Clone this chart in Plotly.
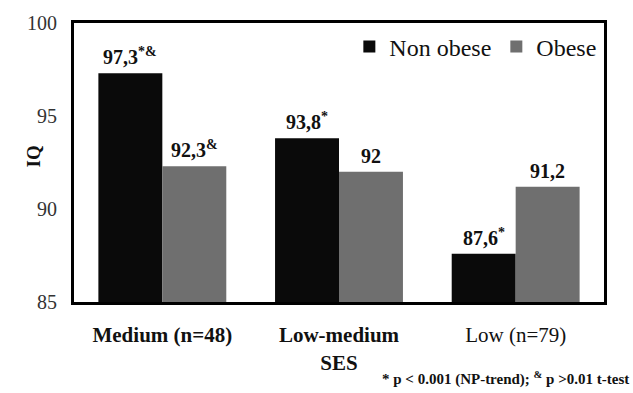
import plotly.graph_objects as go

categories = ["Medium (n=48)", "Low-medium SES", "Low (n=79)"]
tick_text = ["<b>Medium (n=48)</b>", "<b>Low-medium<br>SES</b>", "Low (n=79)"]
non_obese = [97.3, 93.8, 87.6]
obese = [92.3, 92.0, 91.2]
non_obese_labels = ["97,3<sup>*&amp;</sup>", "93,8<sup>*</sup>", "87,6<sup>*</sup>"]
obese_labels = ["92,3<sup>&amp;</sup>", "92", "91,2"]
y_ticks = [85, 90, 95, 100]

SERIF = "Liberation Serif"
BLACK = "#0a0a0a"
GRAY = "#6f6f6f"

fig = go.Figure()
fig.add_trace(go.Bar(name="Non obese", x=categories, y=non_obese,
                     marker=dict(color=BLACK, line=dict(width=0))))
fig.add_trace(go.Bar(name="Obese", x=categories, y=obese,
                     marker=dict(color=GRAY, line=dict(width=0))))

half = 32
for cat, v, t in zip(categories, non_obese, non_obese_labels):
    fig.add_annotation(x=cat, y=v, xref="x", yref="y", text="<b>" + t + "</b>",
                       showarrow=False, xshift=-half, yanchor="bottom", yshift=3,
                       font=dict(family=SERIF, size=20, color="#111"))
for cat, v, t in zip(categories, obese, obese_labels):
    fig.add_annotation(x=cat, y=v, xref="x", yref="y", text="<b>" + t + "</b>",
                       showarrow=False, xshift=half, yanchor="bottom", yshift=3,
                       font=dict(family=SERIF, size=20, color="#111"))

fig.add_annotation(x=1.0, y=0, xref="paper", yref="paper", xanchor="right", yanchor="bottom",
                   text="<b>* p &lt; 0.001 (NP-trend); <sup>&amp;</sup> p &gt;0.01 t-test</b>",
                   showarrow=False, yshift=-88, xshift=27,
                   font=dict(family=SERIF, size=15, color="#111"))
fig.add_annotation(x=-0.1, y=0.52, xref="paper", yref="paper", text="<b>IQ</b>",
                   textangle=-90, showarrow=False,
                   font=dict(family=SERIF, size=19, color="#111"))

fig.update_layout(
    width=633, height=393,
    margin=dict(l=74, r=29, t=20, b=91),
    paper_bgcolor="white", plot_bgcolor="white",
    barmode="group", bargap=0.276, bargroupgap=0,
    legend=dict(orientation="h", x=0.995, xanchor="right", y=0.995, yanchor="top",
                font=dict(family=SERIF, size=24, color="#111")),
)
fig.update_xaxes(tickvals=categories, ticktext=tick_text, showline=True, linecolor="black",
                 linewidth=3, mirror=True, ticks="outside", ticklen=12, tickcolor="white",
                 tickfont=dict(family=SERIF, size=21, color="#111"))
fig.update_yaxes(range=[85, 100], tickvals=y_ticks, showline=True, linecolor="black",
                 linewidth=3, mirror=True, showgrid=False, zeroline=False,
                 ticks="outside", ticklen=10, tickcolor="white",
                 tickfont=dict(family=SERIF, size=20, color="#333"))

fig.write_html("out.html")
